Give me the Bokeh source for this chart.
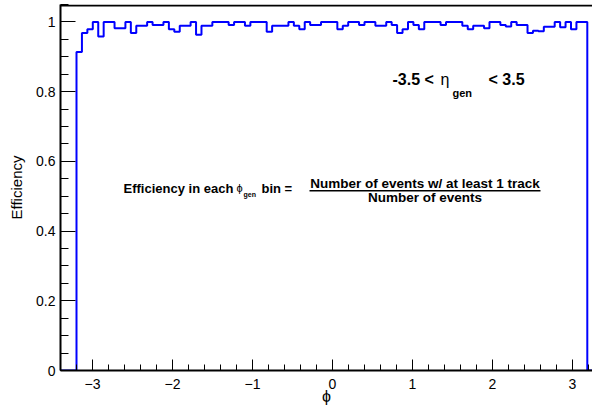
import numpy as np
from bokeh.plotting import figure
from bokeh.models import SingleIntervalTicker, CustomJSTickFormatter, Span
from bokeh.core.properties import value
from bokeh.embed import file_html
from bokeh.resources import INLINE

# ---- data ----
phi_low = -3.2
phi_high = 3.185
efficiency = [
    0.914, 0.968, 0.979, 1.000, 0.958, 1.000, 1.000, 0.982, 0.982, 1.000,
    0.968, 0.989, 0.989, 1.000, 0.991, 0.991, 1.000, 0.979, 0.972, 0.989,
    0.989, 1.000, 0.963, 0.989, 0.989, 1.000, 1.000, 1.000, 0.991, 1.000,
    1.000, 0.989, 1.000, 1.000, 1.000, 0.972, 0.989, 0.989, 0.989, 1.000,
    0.989, 0.979, 1.000, 0.991, 0.991, 1.000, 1.000, 1.000, 0.979, 0.989,
    1.000, 1.000, 0.991, 1.000, 1.000, 0.989, 0.989, 1.000, 0.991, 0.968,
    0.979, 1.000, 0.991, 0.979, 1.000, 1.000, 1.000, 0.991, 1.000, 1.000,
    1.000, 0.989, 0.979, 0.989, 0.989, 0.982, 1.000, 1.000, 0.991, 0.987,
    1.000, 0.991, 0.991, 0.968, 0.975, 0.973, 0.986, 0.986, 1.000, 0.985,
    1.000, 0.979, 1.000, 1.000,
]
x_title = "ϕ"
y_title = "Efficiency"

X_MIN, X_MAX = -3.4, 3.25
Y_MIN, Y_MAX = 0.0, 1.05

# histogram outline (ROOT style, starting and ending on zero)
edges = np.linspace(phi_low, phi_high, len(efficiency) + 1)
hx = [X_MIN, edges[0]]
hy = [0.0, 0.0]
for i, v in enumerate(efficiency):
    hx += [edges[i], edges[i + 1]]
    hy += [v, v]
hx += [edges[-1], X_MAX]
hy += [0.0, 0.0]

FONT = "Liberation Sans"

p = figure(width=592, height=407, x_range=(X_MIN, X_MAX), y_range=(Y_MIN, Y_MAX),
           output_backend="svg", toolbar_location=None,
           min_border_left=60, min_border_right=0, min_border_top=4, min_border_bottom=0)
p.outline_line_color = None
p.grid.visible = False
p.background_fill_color = "white"
p.border_fill_color = "white"

p.line(hx, hy, line_color="#0000ff", line_width=2)

# top frame line (1 px inside the frame so it is not clipped)
p.add_layout(Span(location=Y_MAX - 0.003, dimension="width", line_color="black", line_width=2))

fmt = CustomJSTickFormatter(code="""
var s = (Math.round(tick*10)/10).toString();
return s.replace('-', '\u2212');
""")

p.xaxis.ticker = SingleIntervalTicker(interval=1, num_minor_ticks=5)
p.yaxis.ticker = SingleIntervalTicker(interval=0.2, num_minor_ticks=4)
for ax in (p.xaxis, p.yaxis):
    ax.formatter = fmt
    ax.axis_line_color = "black"
    ax.axis_line_width = 2
    ax.major_tick_line_color = "black"
    ax.minor_tick_line_color = "black"
    ax.major_tick_out = 0
    ax.minor_tick_out = 0
    ax.major_label_text_font = FONT
    ax.major_label_text_font_size = "14px"
    ax.major_label_text_color = "black"
    ax.axis_label_text_font = FONT
    ax.axis_label_text_font_style = "normal"
    ax.axis_label_text_color = "black"

p.xaxis.major_tick_in = 11
p.xaxis.minor_tick_in = 6
p.yaxis.major_tick_in = 15
p.yaxis.minor_tick_in = 8
p.xaxis.major_label_standoff = 8
p.yaxis.major_label_standoff = 5
p.xaxis.axis_label = x_title
p.xaxis.axis_label_text_font_size = "16px"
p.xaxis.axis_label_standoff = -4
p.yaxis.axis_label = y_title
p.yaxis.axis_label_text_font_size = "15px"
p.yaxis.axis_label_standoff = 8


def txt(x, y, s, size, style="bold", align="left"):
    p.text(x=[x], y=[y], text=[s], text_font=value(FONT), text_font_size=size,
           text_font_style=style, text_align=align, text_baseline="alphabetic",
           text_color="black")


# eta range annotation
txt(0.75, 0.836, "-3.5 <", "16px")
txt(1.35, 0.836, "η", "16px", style="normal")
txt(1.50, 0.796, "gen", "11px")
txt(1.95, 0.836, "< 3.5", "16px")

# efficiency definition
txt(-2.6125, 0.521, "Efficiency in each", "13px")
txt(-1.2, 0.523, "ϕ", "11px", style="normal")
txt(-1.1125, 0.505, "gen", "7px")
txt(-0.8875, 0.521, "bin =", "13px")
txt(1.156, 0.5375, "Number of events w/ at least 1 track", "13.5px", align="center")
txt(1.156, 0.497, "Number of events", "13.5px", align="center")
p.segment(x0=[-0.2875], y0=[0.516], x1=[2.6], y1=[0.516], line_color="black", line_width=1.5)

open("out.html", "w").write(file_html(p, INLINE))
